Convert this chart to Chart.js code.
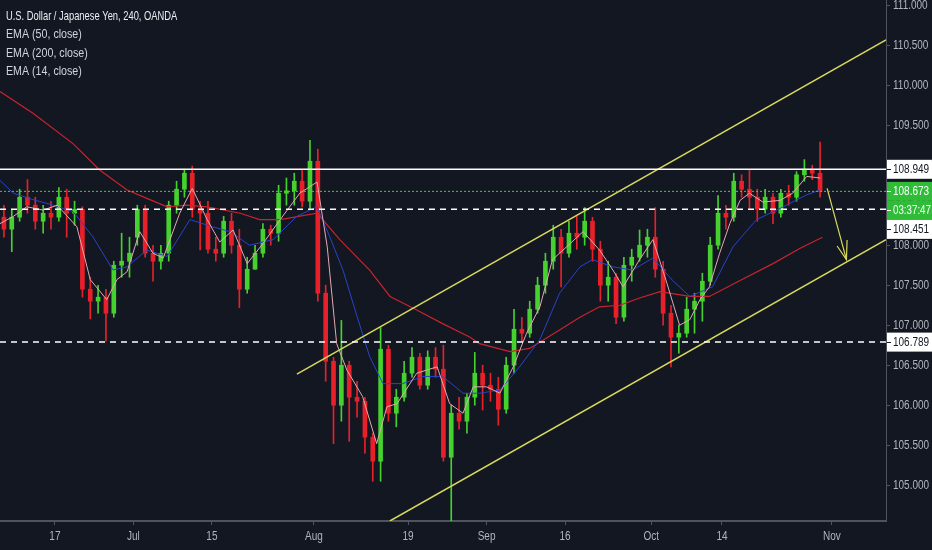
<!DOCTYPE html>
<html>
<head>
<meta charset="utf-8">
<script src="https://cdn.jsdelivr.net/npm/chart.js@4.4.1/dist/chart.umd.min.js"></script>
<style>
  html, body { margin: 0; padding: 0; background: #131722; }
  #wrap { width: 932px; height: 550px; position: relative; }
</style>
</head>
<body>
<div id="wrap"><canvas id="chart"></canvas></div>
<script>
// daily candles, index 0 = 6 Jun, one entry per trading day up to 30 Oct
const opens = [108.35,108.20,108.35,108.60,108.50,108.30,108.40,108.35,108.60,108.40,
  108.45,107.45,107.30,107.35,107.15,107.75,107.80,108.10,108.45,107.90,
  107.80,107.90,108.50,108.70,108.90,108.45,108.40,107.95,107.90,108.30,
  108.00,107.45,107.70,107.90,108.20,108.15,108.65,108.68,108.80,108.55,
  109.05,107.40,106.55,106.00,106.50,106.10,106.05,105.60,105.30,106.70,
  105.90,106.10,106.40,106.60,106.25,106.60,106.45,105.35,105.90,105.80,
  106.10,106.40,106.25,106.20,105.95,106.50,106.95,106.90,107.20,107.50,
  107.80,108.10,107.90,108.15,108.10,108.30,107.95,107.50,107.60,107.10,
  107.75,107.85,108.00,108.10,107.70,107.15,106.85,106.90,107.20,107.30,
  107.55,108.00,108.40,108.35,108.80,108.70,108.60,108.45,108.60,108.40,
  108.65,108.60,108.88,108.95,108.90];
const highs = [108.50,108.45,108.70,108.82,108.60,108.50,108.55,108.72,108.70,108.55,
  108.48,107.60,107.50,107.45,107.80,108.15,108.10,108.50,108.50,108.00,
  108.00,108.55,108.80,108.95,108.99,108.55,108.55,108.10,108.36,108.40,
  108.20,107.85,108.00,108.27,108.25,108.75,108.84,108.90,108.94,109.31,
  109.20,107.50,106.60,107.06,106.55,106.30,106.10,105.65,106.97,106.75,
  106.20,106.55,106.72,106.65,106.68,106.72,106.75,106.00,106.10,106.15,
  106.66,106.50,106.40,106.35,106.60,107.20,107.10,107.30,107.60,107.90,
  108.25,108.20,108.30,108.36,108.47,108.35,108.05,107.80,107.65,107.85,
  107.95,108.19,108.20,108.47,107.80,107.25,107.00,107.35,107.40,107.65,
  108.10,108.62,108.50,108.90,108.88,108.94,108.70,108.70,108.65,108.70,
  108.75,108.92,109.07,109.00,109.29];
const lows = [108.10,107.92,108.30,108.40,108.20,108.15,108.20,108.30,108.10,108.25,
  107.35,107.08,107.15,106.80,107.10,107.60,107.60,108.00,107.85,107.55,
  107.70,107.80,108.40,108.60,108.35,107.94,107.90,107.80,107.85,107.90,
  107.22,107.40,107.70,107.85,108.00,108.05,108.50,108.50,108.48,108.45,
  107.30,106.30,105.52,105.80,105.55,105.85,105.40,105.05,105.05,105.80,
  105.73,106.05,106.35,106.20,106.20,106.35,105.30,104.46,105.70,105.65,
  106.00,105.94,106.05,105.75,105.90,106.40,106.80,106.85,107.15,107.40,
  107.70,107.48,107.85,107.95,108.00,107.80,107.30,107.30,107.02,107.05,
  107.55,107.80,107.85,107.60,107.00,106.48,106.65,106.85,106.90,107.05,
  107.50,107.95,108.20,108.30,108.60,108.45,108.30,108.40,108.27,108.35,
  108.50,108.55,108.80,108.82,108.60];
const closes = [108.20,108.35,108.60,108.50,108.30,108.40,108.35,108.60,108.40,108.45,
  107.45,107.30,107.35,107.15,107.75,107.80,107.90,108.45,107.90,107.80,
  107.90,108.50,108.70,108.90,108.45,108.40,107.95,107.90,108.30,108.00,
  107.45,107.70,107.90,108.20,108.15,108.65,108.68,108.80,108.55,109.05,
  107.40,106.55,106.00,106.50,106.10,106.05,105.60,105.30,106.70,105.90,
  106.10,106.40,106.60,106.25,106.60,106.45,105.35,105.90,105.80,106.10,
  106.40,106.25,106.20,105.95,106.50,106.95,106.90,107.20,107.50,107.80,
  108.10,107.90,108.15,108.10,108.30,107.95,107.50,107.60,107.10,107.75,
  107.85,108.00,108.10,107.70,107.15,106.85,106.90,107.20,107.30,107.55,
  108.00,108.40,108.35,108.80,108.70,108.60,108.45,108.60,108.40,108.65,
  108.60,108.88,108.95,108.90,108.673];

// EMA lines (x in trading-day units)
const ema200Idx = [0,4.2,9.3,12.7,16.2,19.1,21.3,23.8,26.4,30.6,33.1,35.7,40.4,43.3,47.1,49.7,53.1,56.4,59.9,61.1,65,67.5,71.3,73.9,76.4,79,81.5,84.1,87.9,90.4,94.3,98.5,101.9,104.8];
const ema200 = [109.92,109.65,109.27,108.94,108.69,108.57,108.48,108.50,108.48,108.40,108.32,108.32,108.40,108.07,107.69,107.36,107.19,107.02,106.85,106.77,106.67,106.71,106.94,107.10,107.23,107.25,107.34,107.42,107.36,107.36,107.56,107.77,107.96,108.10];
const ema50Idx = [0,1.7,4.2,6.8,9.3,11.8,14.4,16.2,18.7,21.3,24.2,27.1,29.3,31.8,34.8,37.8,40.4,42.0,43.7,45.5,47.1,48.8,51.3,53.9,56.4,59.0,61.1,63.7,66.2,68.8,71.3,73.9,75.5,78.1,80.6,83.2,85.7,87.9,90.8,93.4,96.4,99.4,102.8,104.5];
const ema50 = [108.81,108.65,108.57,108.50,108.42,108.11,107.69,107.73,107.94,107.86,108.32,108.23,108.17,108.00,108.07,108.36,108.48,108.11,107.69,107.11,106.61,106.27,106.27,106.36,106.36,106.15,106.15,106.19,106.48,106.82,107.40,107.73,107.82,107.73,107.69,107.84,107.56,107.36,107.48,107.98,108.32,108.46,108.63,108.69];
const ema14Idx = [0,1.7,3.4,5.5,7.3,9.8,11.5,13.6,14.9,16.2,17.8,19.5,20.8,22.9,24.5,26.4,28.0,29.7,31.5,33.5,35.7,38.2,40.4,41.7,42.9,44.2,46.2,48.0,49.3,50.6,53.1,55.7,57.3,59.0,60.3,62.0,63.7,65.4,67.1,68.8,70.4,72.2,74.3,76.4,78.1,79.4,81.5,83.2,85.0,86.6,87.9,89.2,90.4,91.7,93.0,94.3,95.5,97.2,99.4,101.0,102.8,104.5];
const ema14 = [108.27,108.36,108.48,108.44,108.50,108.23,107.57,107.32,107.57,107.67,108.17,107.90,107.84,108.40,108.71,108.32,108.04,108.19,107.77,108.02,108.32,108.65,108.79,107.98,106.77,106.44,106.11,105.52,105.98,106.02,106.40,106.48,106.02,105.90,106.23,106.23,106.15,106.48,106.90,107.23,107.82,107.98,108.17,107.94,107.69,107.48,107.82,108.07,107.52,107.00,107.07,107.32,107.48,107.90,108.27,108.56,108.65,108.54,108.56,108.65,108.86,108.84];

// drawings
const levelSolid = 108.949;
const levelPrice = 108.673;
const levelDashed = [108.451, 106.789];
const channelIdx = [37.83, 112.9];
const channelUpper = [106.39, 110.565];
const channelLowerIdx = [49.68, 112.9];
const channelLower = [104.553, 108.07];
const arrowIdx = [105.4, 107.86];
const arrowVal = [108.71, 107.82];
const arrowHeadIdx = [106.67, 107.86, 107.94];
const arrowHeadVal = [107.99, 107.82, 108.065];
const countdown = '03:37:47';

// axes
const dateTickIdx = [7, 17, 27, 40, 52, 62, 72, 83, 92, 106];
const dateTickText = ['17', 'Jul', '15', 'Aug', '19', 'Sep', '16', 'Oct', '14', 'Nov'];
const legendLines = ['U.S. Dollar / Japanese Yen, 240, OANDA', 'EMA (50, close)', 'EMA (200, close)', 'EMA (14, close)'];

const FONT = '"Liberation Sans", Arial, sans-serif';
const SQUEEZE = 0.8;
const UP = '#45d12e';
const DOWN = '#e8202a';
const YELLOW = '#d9d95c';
const AXIS = '#50535e';
const TEXT = '#b2b5be';

const candleColors = closes.map((c, i) => (c >= opens[i] ? UP : DOWN));
const pts = (xs, ys) => xs.map((x, i) => ({ x: x, y: ys[i] }));
const flat = (v) => [{ x: 0, y: v }, { x: 112.9, y: v }];

const lineDs = (data, color, width, dash, order) => ({
  type: 'line', data: data, borderColor: color, borderWidth: width,
  borderDash: dash || [], pointRadius: 0, fill: false, tension: 0, order: order,
});

// narrow text, the chart font is a condensed one
function text(ctx, str, x, y, align, squeeze) {
  ctx.save();
  ctx.translate(x, y);
  ctx.scale(squeeze || SQUEEZE, 1);
  ctx.textAlign = align;
  ctx.fillText(str, 0, 0);
  ctx.restore();
}

const overlayPlugin = {
  id: 'overlay',
  afterDraw(chart) {
    const ctx = chart.ctx;
    const xs = chart.scales.x;
    const ys = chart.scales.y;
    const right = chart.chartArea.right;
    ctx.save();
    ctx.textBaseline = 'middle';

    // top-left legend
    legendLines.forEach((t, i) => {
      ctx.font = (i === 0 ? '13px ' : '13px ') + FONT;
      ctx.fillStyle = i === 0 ? '#eceef2' : '#d1d4dc';
      text(ctx, t, 6, 16 + i * 18.5, 'left', i === 0 ? 0.72 : 0.82);
    });

    // axis labels
    ctx.font = '12.5px ' + FONT;
    ctx.fillStyle = TEXT;
    ys.ticks.forEach((t) => text(ctx, t.value.toFixed(3), right + 7, ys.getPixelForValue(t.value) + 0.5, 'left'));
    dateTickIdx.forEach((v, i) => text(ctx, dateTickText[i], xs.getPixelForValue(v), 537, 'center'));

    // price labels on the axis
    const h = 19;
    const boxes = [
      { y: ys.getPixelForValue(levelSolid), text: levelSolid.toFixed(3), bg: '#ffffff', fg: '#131722' },
      { y: ys.getPixelForValue(levelPrice), text: levelPrice.toFixed(3), bg: '#2fbd38', fg: '#ffffff' },
      { y: ys.getPixelForValue(levelPrice) + h, text: countdown, bg: '#2fbd38', fg: '#ffffff' },
      { y: ys.getPixelForValue(levelDashed[0]), text: levelDashed[0].toFixed(3), bg: '#ffffff', fg: '#131722' },
      { y: ys.getPixelForValue(levelDashed[1]), text: levelDashed[1].toFixed(3), bg: '#ffffff', fg: '#131722' },
    ];
    let prevBottom = -Infinity;
    boxes.forEach((b) => {
      let cy = b.y;
      if (cy - h / 2 < prevBottom) cy = prevBottom + h / 2;
      prevBottom = cy + h / 2;
      ctx.fillStyle = b.bg;
      ctx.fillRect(right + 1, cy - h / 2, 932 - right, h);
      ctx.strokeStyle = b.fg;
      ctx.lineWidth = 1;
      ctx.beginPath();
      ctx.moveTo(right + 1, Math.round(cy) + 0.5);
      ctx.lineTo(right + 5, Math.round(cy) + 0.5);
      ctx.stroke();
      ctx.fillStyle = b.fg;
      text(ctx, b.text, right + 7, cy + 0.5, 'left', b.text === countdown ? 0.78 : SQUEEZE);
    });
    ctx.restore();
  },
};

new Chart(document.getElementById('chart'), {
  type: 'bar',
  data: {
    datasets: [
      lineDs(flat(levelSolid), '#ffffff', 1.5, null, 0),
      lineDs(flat(levelPrice), '#3bd43b', 1, [2, 2], 0),
      lineDs(flat(levelDashed[0]), '#ffffff', 1.5, [6, 5], 0),
      lineDs(flat(levelDashed[1]), '#ffffff', 1.5, [6, 5], 0),
      lineDs(pts(channelIdx, channelUpper), YELLOW, 1.5, null, 0),
      lineDs(pts(channelLowerIdx, channelLower), YELLOW, 1.5, null, 0),
      lineDs(pts(arrowIdx, arrowVal), YELLOW, 1.2, null, 0),
      lineDs(pts(arrowHeadIdx, arrowHeadVal), YELLOW, 1.2, null, 0),
      lineDs(pts(ema14Idx, ema14), '#e3aab2', 1, null, 1),
      lineDs(pts(ema50Idx, ema50), '#2a44c8', 1, null, 1),
      lineDs(pts(ema200Idx, ema200), '#c8242c', 1.2, null, 1),
      {
        type: 'bar',
        data: opens.map((o, i) => ({ x: i + 0.5, y: [o, closes[i]] })),
        backgroundColor: candleColors,
        barThickness: 4,
        minBarLength: 1,
        grouped: false,
        order: 2,
      },
      {
        type: 'bar',
        data: lows.map((l, i) => ({ x: i + 0.5, y: [l, highs[i]] })),
        backgroundColor: candleColors,
        barThickness: 1,
        grouped: false,
        order: 3,
      },
    ],
  },
  options: {
    responsive: true,
    maintainAspectRatio: false,
    animation: false,
    layout: { padding: 0 },
    plugins: { legend: { display: false }, tooltip: { enabled: false } },
    scales: {
      x: {
        type: 'linear',
        min: 0,
        max: 112.9,
        offset: false,
        grid: { offset: false, drawOnChartArea: false, color: AXIS, tickLength: 4 },
        border: { color: AXIS, width: 2 },
        afterBuildTicks: (s) => { s.ticks = dateTickIdx.map((v) => ({ value: v })); },
        ticks: { display: false },
        afterFit: (s) => { s.height = 29; s.paddingLeft = 0; s.paddingRight = 0; },
      },
      y: {
        position: 'right',
        min: 104.553,
        max: 111.065,
        grid: { drawOnChartArea: false, color: AXIS, tickLength: 4 },
        border: { color: AXIS },
        ticks: { display: false, stepSize: 0.5, includeBounds: false },
        afterFit: (s) => { s.width = 46; s.paddingTop = 0; s.paddingBottom = 0; },
      },
    },
  },
  plugins: [overlayPlugin],
});
</script>
</body>
</html>
